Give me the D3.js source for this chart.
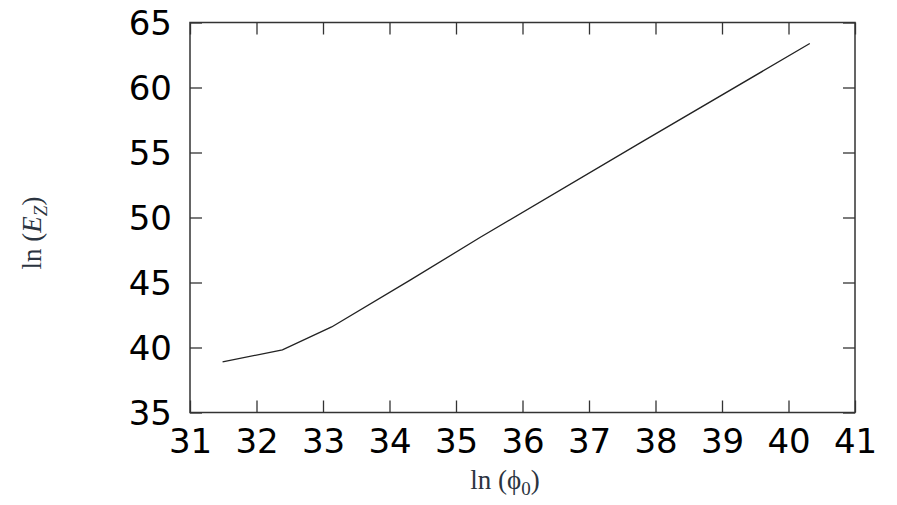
<!DOCTYPE html>
<html><head><meta charset="utf-8">
<script src="https://cdn.jsdelivr.net/npm/d3@7"></script>
<style>body{margin:0;background:#fff}</style>
</head><body>
<svg id="c" width="897" height="505"></svg>
<script>
const lnPhi0 = [31.49, 32.39, 33.13, 34.31, 35.36, 37.77, 40.32];
const lnEz   = [38.89, 39.82, 41.58, 45.18, 48.46, 55.74, 63.38];
const xTicks = [31, 32, 33, 34, 35, 36, 37, 38, 39, 40, 41];
const yTicks = [35, 40, 45, 50, 55, 60, 65];

const svg = d3.select("#c");
const L = 190, R = 855, T = 22.5, B = 412.5;
const x = d3.scaleLinear().domain([31, 41]).range([L, R]);
const y = d3.scaleLinear().domain([35, 65]).range([B, T]);
const tickLen = 12;
const axisColor = "#333";
const font = "DejaVu Sans, sans-serif";

const gx = svg.append("g").attr("transform", `translate(0,${B})`)
  .call(d3.axisBottom(x).tickValues(xTicks).tickSize(-tickLen).tickPadding(16).tickFormat(d3.format("d")));
const gx2 = svg.append("g").attr("transform", `translate(0,${T})`)
  .call(d3.axisTop(x).tickValues(xTicks).tickSize(-tickLen).tickFormat(""));
const gy = svg.append("g").attr("transform", `translate(${L},0)`)
  .call(d3.axisLeft(y).tickValues(yTicks).tickSize(-tickLen).tickPadding(18).tickFormat(d3.format("d")));
const gy2 = svg.append("g").attr("transform", `translate(${R},0)`)
  .call(d3.axisRight(y).tickValues(yTicks).tickSize(-tickLen).tickFormat(""));
[gx, gx2, gy, gy2].forEach(g => {
  g.select(".domain").remove();
  g.selectAll(".tick line").attr("stroke", axisColor).attr("stroke-width", 1.3);
  g.selectAll(".tick text").attr("fill", "#000").style("font-family", font).style("font-size", "34px");
});
gx.selectAll(".tick text").attr("dy", "0.71em");
gy.selectAll(".tick text").attr("dy", "0.34em");

svg.append("rect").attr("x", L).attr("y", T).attr("width", R - L).attr("height", B - T)
  .attr("fill", "none").attr("stroke", axisColor).attr("stroke-width", 1.5);

const pts = lnPhi0.map((v, i) => [v, lnEz[i]]);
svg.append("path").datum(pts)
  .attr("d", d3.line().x(d => x(d[0])).y(d => y(d[1])))
  .attr("fill", "none").attr("stroke", "#222").attr("stroke-width", 1.3);

const titleColor = "#2b3440";
const xt = svg.append("text").attr("x", 505).attr("y", 489).attr("text-anchor", "middle")
  .style("font-family", "Liberation Serif, serif").style("font-size", "27px").attr("fill", titleColor);
xt.append("tspan").text("ln (ϕ");
xt.append("tspan").attr("font-size", "19px").attr("dy", 6).text("0");
xt.append("tspan").attr("dy", -6).text(")");

const yt = svg.append("text").attr("transform", "translate(41,233) rotate(-90)").attr("text-anchor", "middle")
  .style("font-family", "Liberation Serif, serif").style("font-size", "27px").attr("fill", titleColor);
yt.append("tspan").text("ln (");
yt.append("tspan").attr("font-style", "italic").text("E");
yt.append("tspan").attr("font-style", "italic").attr("font-size", "19px").attr("dy", 6).text("Z");
yt.append("tspan").attr("dy", -6).text(")");
</script>
</body></html>
